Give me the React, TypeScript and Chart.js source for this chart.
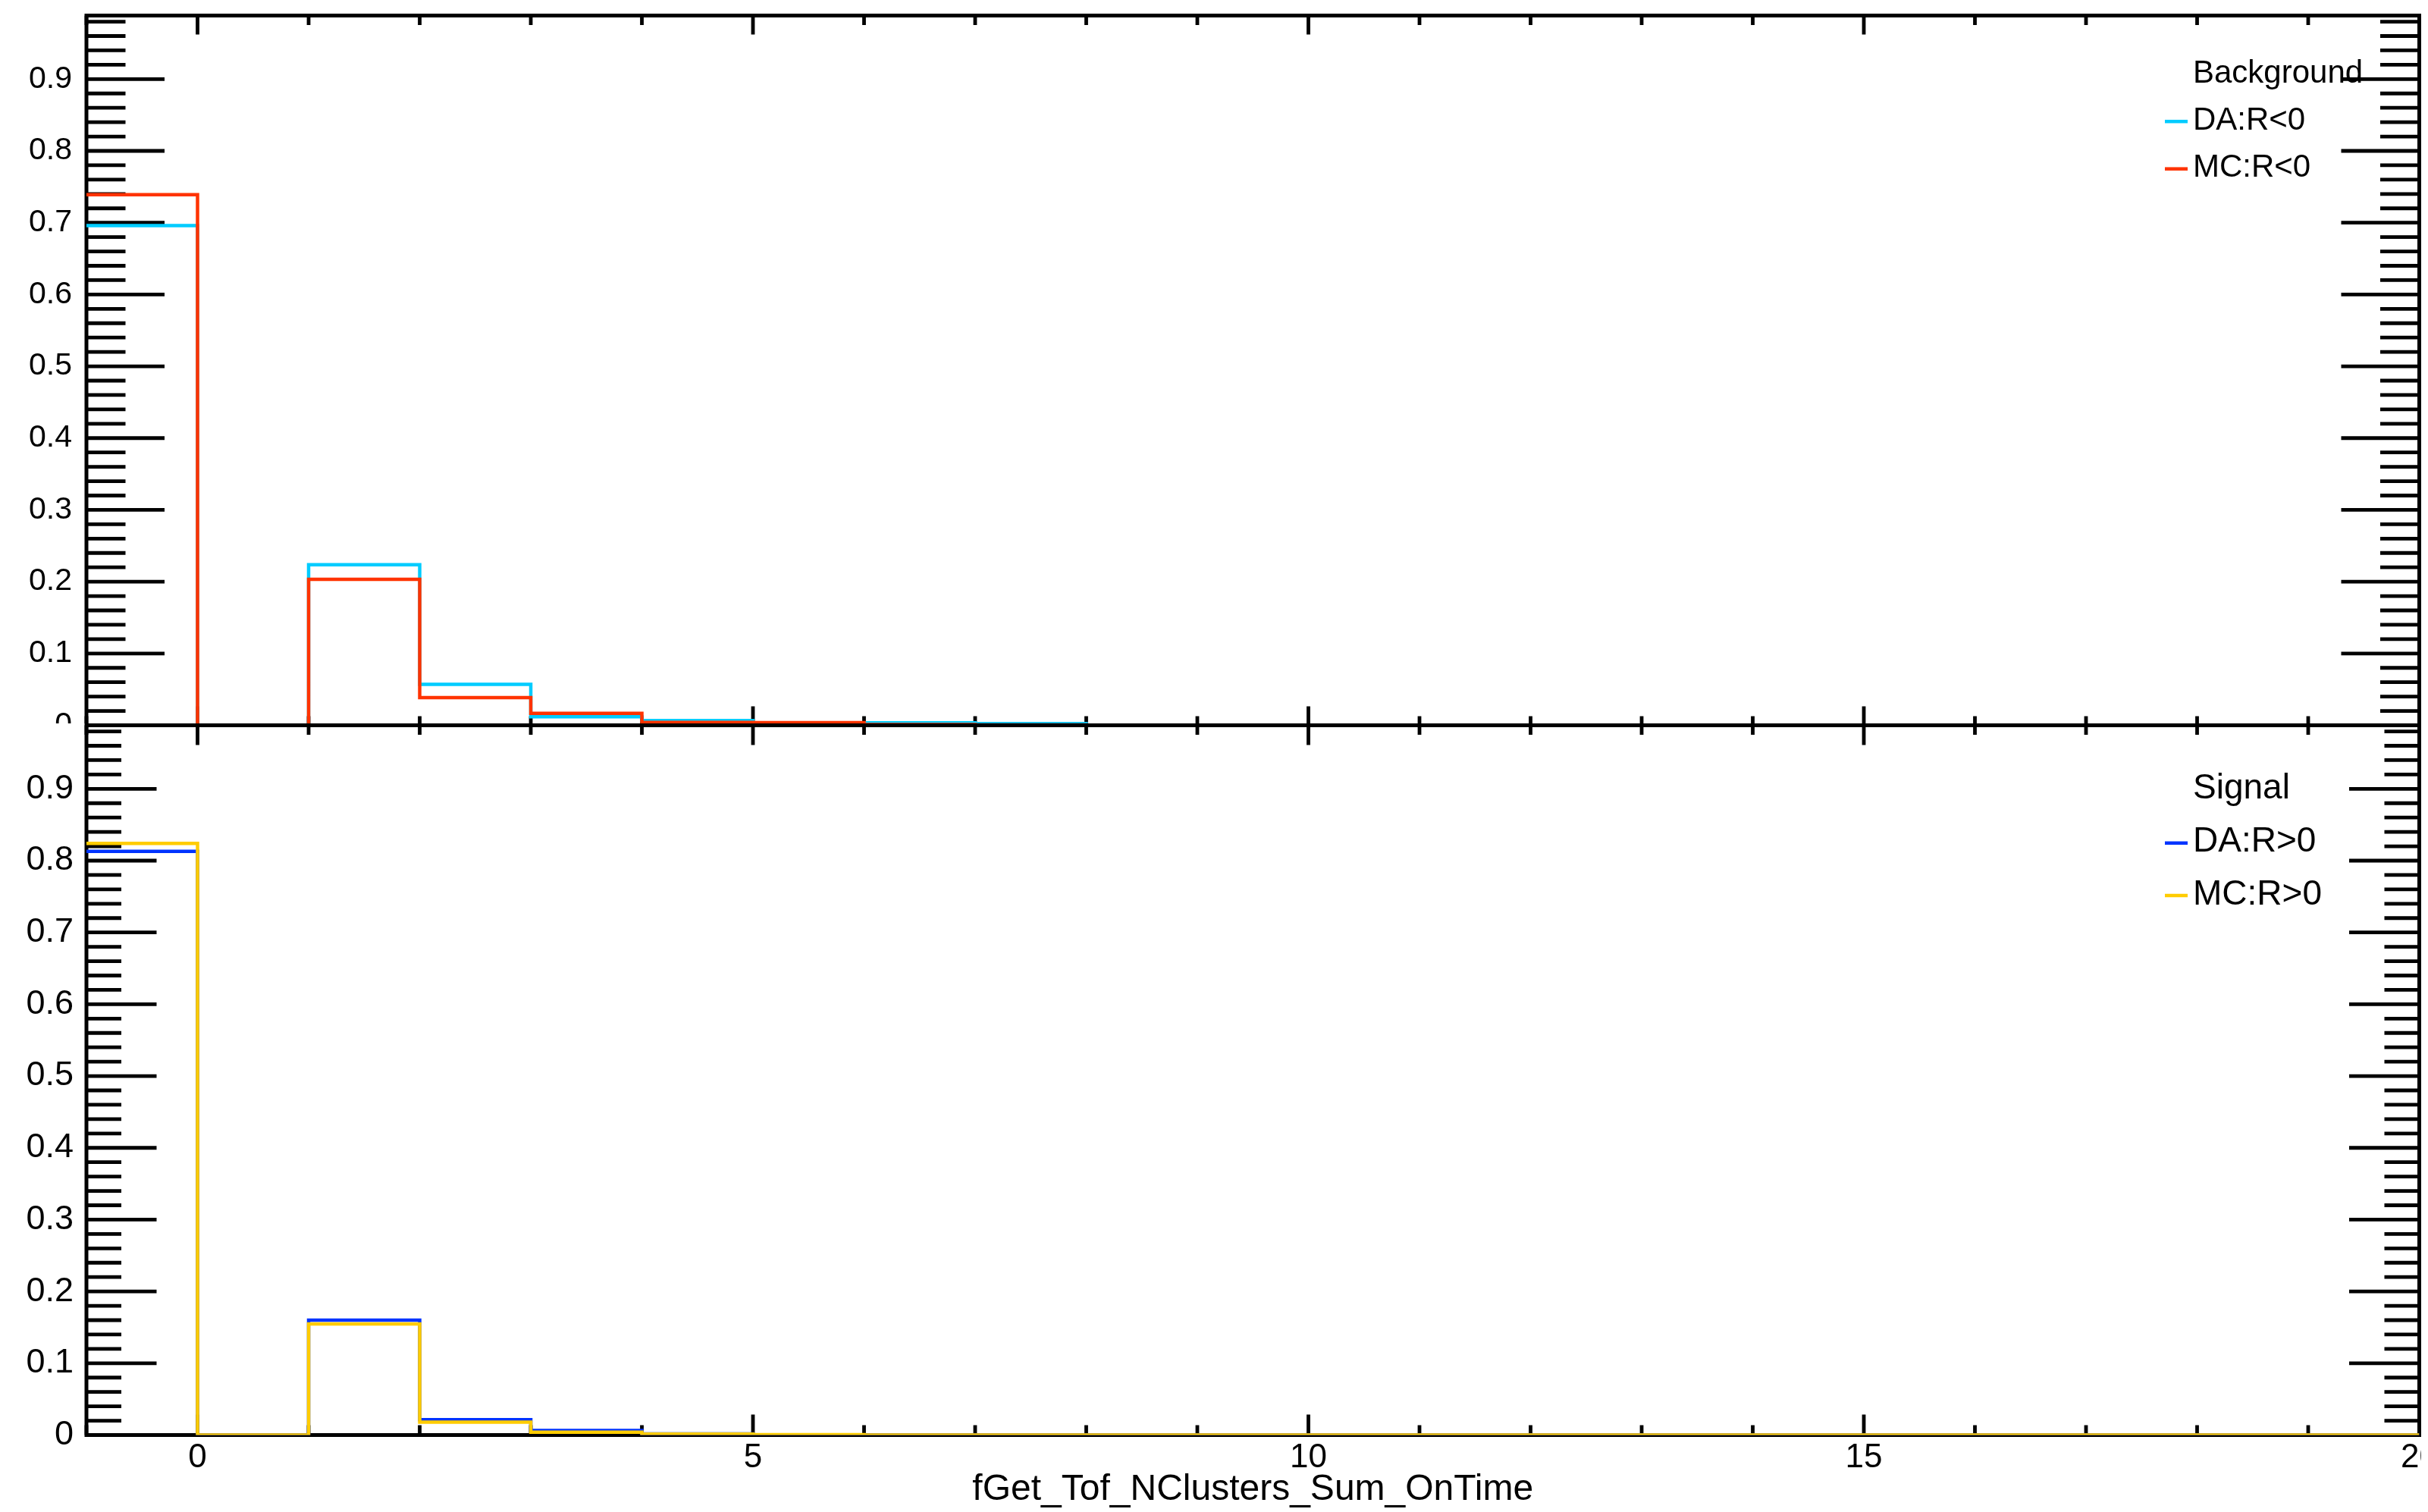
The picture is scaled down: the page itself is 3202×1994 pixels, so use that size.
import React, { useEffect, useRef } from 'react';
import { Chart, registerables } from 'chart.js';

Chart.register(...registerables);

// ---------------- data ----------------
const binEdges = [-1, 0, 1, 2, 3, 4, 5, 6, 7, 8, 9, 10, 11, 12, 13, 14, 15, 16, 17, 18, 19, 20];

// Background (R<0)
const bgDA = [0.696, 0, 0.2237, 0.057, 0.012, 0.0065, 0.003, 0.0035, 0.0025, 0, 0, 0, 0, 0, 0, 0, 0, 0, 0, 0, 0];
const bgMC = [0.739, 0, 0.2033, 0.0385, 0.0167, 0.004, 0.0038, 0.001, 0.0005, 0, 0, 0, 0, 0, 0, 0, 0, 0, 0, 0, 0];

// Signal (R>0)
const sigDA = [0.813, 0, 0.160, 0.0215, 0.0063, 0.0015, 0.0003, 0, 0, 0, 0, 0, 0, 0, 0, 0, 0, 0, 0, 0, 0];
const sigMC = [0.824, 0, 0.1547, 0.018, 0.0039, 0.0014, 0.0005, 0, 0, 0, 0, 0, 0, 0, 0, 0, 0, 0, 0, 0, 0];

const xTickLabels = [0, 5, 10, 15, 20];
const yTickLabels = [0, 0.1, 0.2, 0.3, 0.4, 0.5, 0.6, 0.7, 0.8, 0.9];

const X_MIN = -1;
const X_MAX = 20;
const Y_MAX = 0.9885;

const COLORS = {
  bgDA: '#00ccff',
  bgMC: '#ff3300',
  sigDA: '#0033ff',
  sigMC: '#ffcc00',
};

const FAMILY = '"Liberation Sans", Arial, Helvetica, sans-serif';

// histogram outline: a point at each bin's left edge holding the bin value, plus the
// closing right edge; drawn with stepped 'before' (horizontal at previous value, then vertical)
function histPoints(vals: number[]) {
  const pts = vals.map((v, i) => ({ x: binEdges[i], y: v }));
  pts.push({ x: binEdges[binEdges.length - 1], y: vals[vals.length - 1] });
  return pts;
}

// ---------------- plugins ----------------
const rootFramePlugin = {
  id: 'rootFrame',
  beforeDatasetsDraw(chart: any, _args: any, o: any) {
    const { ctx, chartArea: a, scales } = chart;
    const xs = scales.x;
    const ys = scales.y;
    ctx.save();
    ctx.strokeStyle = '#000';
    ctx.lineWidth = 4.8;
    ctx.lineCap = 'butt';
    ctx.beginPath();
    for (let k = 0; k * 0.02 <= Y_MAX + 1e-9; k++) {
      const v = k * 0.02;
      const major = k % 5 === 0;
      const len = major ? o.yMajor : o.yMinor;
      const py = ys.getPixelForValue(v);
      ctx.moveTo(a.left, py);
      ctx.lineTo(a.left + len, py);
      ctx.moveTo(a.right - len, py);
      ctx.lineTo(a.right, py);
    }
    for (let i = X_MIN; i <= X_MAX; i++) {
      const major = i % 5 === 0;
      const px = xs.getPixelForValue(i);
      const lt = major ? o.xTopMajor : o.xTopMinor;
      const lb = major ? o.xBotMajor : o.xBotMinor;
      ctx.moveTo(px, a.top);
      ctx.lineTo(px, a.top + lt);
      ctx.moveTo(px, a.bottom);
      ctx.lineTo(px, a.bottom - lb);
    }
    ctx.stroke();
    ctx.lineWidth = 5;
    ctx.strokeRect(a.left, a.top, a.right - a.left, a.bottom - a.top);
    ctx.restore();
  },
};

const rootLegendPlugin = {
  id: 'rootLegend',
  afterDraw(chart: any, _args: any, o: any) {
    const { ctx, chartArea: a } = chart;
    ctx.save();
    ctx.font = `${o.size}px ${FAMILY}`;
    ctx.fillStyle = '#000';
    ctx.textBaseline = 'middle';
    ctx.textAlign = 'left';
    const tx = a.right - 298.5;
    ctx.fillText(o.header, tx, a.top + o.headerDy);
    chart.data.datasets.forEach((ds: any, i: number) => {
      const y = a.top + o.rowDy[i];
      ctx.strokeStyle = ds.borderColor;
      ctx.lineWidth = 4.5;
      ctx.beginPath();
      ctx.moveTo(tx - 37, y + 1);
      ctx.lineTo(tx - 7, y + 1);
      ctx.stroke();
      ctx.fillText(ds.label, tx, y);
    });
    ctx.restore();
  },
};

function yScale(fontSize: number, pad: number) {
  return {
    type: 'linear',
    min: 0,
    max: Y_MAX,
    afterBuildTicks: (s: any) => {
      s.ticks = yTickLabels.map((v) => ({ value: v }));
    },
    afterFit: (s: any) => {
      s.width = 114;
      s.paddingTop = 0;
      s.paddingBottom = 0;
    },
    ticks: {
      font: { family: FAMILY, size: fontSize },
      color: '#000',
      padding: pad,
      autoSkip: false,
      callback: (v: any) => String(v),
    },
    grid: { display: false, drawTicks: false },
    border: { display: false },
  };
}

function dataset(label: string, vals: number[], color: string, order: number) {
  return {
    label,
    data: histPoints(vals),
    borderColor: color,
    backgroundColor: color,
    borderWidth: 4.5,
    pointRadius: 0,
    stepped: 'before',
    fill: false,
    tension: 0,
    borderJoinStyle: 'miter',
    order,
  };
}

const W = 3193;
const TOP_H = 970;
const BOT_TOP = 954;
const BOT_H = 1994 - BOT_TOP;

export default function App() {
  const topRef = useRef<HTMLCanvasElement>(null);
  const botRef = useRef<HTMLCanvasElement>(null);

  useEffect(() => {
    document.body.style.margin = '0';
    document.body.style.overflow = 'hidden';

    const top = new Chart(topRef.current as HTMLCanvasElement, {
      type: 'line',
      data: {
        datasets: [
          dataset('DA:R<0', bgDA, COLORS.bgDA, 2),
          dataset('MC:R<0', bgMC, COLORS.bgMC, 1),
        ] as any,
      },
      options: {
        animation: false,
        responsive: false,
        devicePixelRatio: 1,
        events: [],
        layout: { padding: { top: 20.5, right: 2.5, bottom: TOP_H - 956.5, left: 0 } },
        plugins: {
          legend: { display: false },
          tooltip: { enabled: false },
          rootFrame: { yMajor: 103, yMinor: 51.5, xTopMajor: 25, xTopMinor: 12.5, xBotMajor: 25, xBotMinor: 12 },
          rootLegend: { header: 'Background', size: 42, headerDy: 77, rowDy: [138.7, 201.2] },
        } as any,
        scales: {
          x: { type: 'linear', min: X_MIN, max: X_MAX, display: false },
          y: yScale(41, 19),
        } as any,
      },
      plugins: [rootFramePlugin, rootLegendPlugin],
    });

    const bot = new Chart(botRef.current as HTMLCanvasElement, {
      type: 'line',
      data: {
        datasets: [
          dataset('DA:R>0', sigDA, COLORS.sigDA, 2),
          dataset('MC:R>0', sigMC, COLORS.sigMC, 1),
        ] as any,
      },
      options: {
        animation: false,
        responsive: false,
        devicePixelRatio: 1,
        events: [],
        layout: { padding: { top: 956.5 - BOT_TOP, right: 2.5, bottom: 0, left: 0 } },
        plugins: {
          legend: { display: false },
          tooltip: { enabled: false },
          rootFrame: { yMajor: 92.5, yMinor: 46, xTopMajor: 26, xTopMinor: 12.5, xBotMajor: 27, xBotMinor: 13 },
          rootLegend: { header: 'Signal', size: 46, headerDy: 84.3, rowDy: [154.3, 223.5] },
        } as any,
        scales: {
          x: {
            type: 'linear',
            min: X_MIN,
            max: X_MAX,
            position: 'bottom',
            afterBuildTicks: (s: any) => {
              s.ticks = xTickLabels.map((v) => ({ value: v }));
            },
            afterFit: (s: any) => {
              s.height = 1994 - 1892.5;
              s.paddingLeft = 0;
              s.paddingRight = 0;
            },
            ticks: {
              font: { family: FAMILY, size: 44 },
              color: '#000',
              padding: 4,
              maxRotation: 0,
              minRotation: 0,
              autoSkip: false,
              callback: (v: any) => String(v),
            },
            grid: { display: false, drawTicks: false },
            border: { display: false },
            title: {
              display: true,
              text: 'fGet_Tof_NClusters_Sum_OnTime',
              font: { family: FAMILY, size: 48 },
              color: '#000',
              padding: { top: 0, bottom: 0 },
            },
          },
          y: yScale(45, 17),
        } as any,
      },
      plugins: [rootFramePlugin, rootLegendPlugin],
    });

    return () => {
      top.destroy();
      bot.destroy();
    };
  }, []);

  return (
    <div style={{ position: 'absolute', left: 0, top: 0, width: 3202, height: 1994, background: '#fff', overflow: 'hidden' }}>
      <canvas
        ref={topRef}
        width={W}
        height={TOP_H}
        style={{ position: 'absolute', left: 0, top: 0, width: W, height: TOP_H }}
      />
      <canvas
        ref={botRef}
        width={W}
        height={BOT_H}
        style={{ position: 'absolute', left: 0, top: BOT_TOP, width: W, height: BOT_H, background: '#fff' }}
      />
    </div>
  );
}
